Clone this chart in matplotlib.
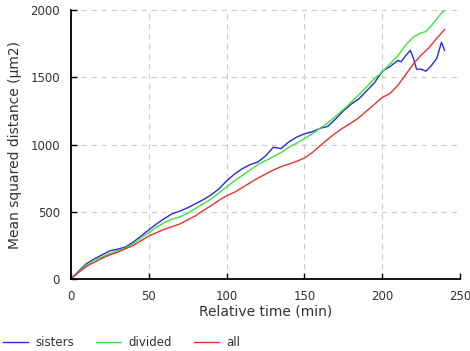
# Mean squared distance over time for sisters / divided / all cells
import matplotlib
matplotlib.use("Agg")
import matplotlib.pyplot as plt

# sisters
t_sis = [0, 5, 10, 15, 20, 25, 30, 35, 40, 45, 50, 55, 60, 65, 70, 75, 80, 85, 90, 95,
         100, 105, 110, 115, 120, 125, 130, 135, 140, 145, 150, 155, 160, 165, 170, 175,
         180, 185, 190, 195, 200, 205, 210, 212, 215, 218, 220, 222, 225, 228, 231, 235,
         238, 240]
msd_sis = [0, 60, 115, 150, 180, 210, 222, 238, 275, 320, 365, 410, 450, 485, 505, 530,
           560, 590, 625, 670, 730, 780, 820, 850, 870, 915, 980, 970, 1020, 1055, 1080,
           1095, 1120, 1135, 1190, 1250, 1300, 1340, 1400, 1460, 1545, 1580, 1625, 1615,
           1660, 1700, 1640, 1560, 1560, 1545, 1580, 1640, 1760, 1700]

# divided
t_div = [0, 5, 10, 15, 20, 25, 30, 35, 40, 45, 50, 55, 60, 65, 70, 75, 80, 85, 90, 95,
         100, 105, 110, 115, 120, 125, 130, 135, 140, 145, 150, 155, 160, 165, 170, 175,
         180, 185, 190, 195, 200, 205, 210, 215, 220, 225, 228, 232, 236, 240]
msd_div = [0, 55, 105, 140, 165, 190, 210, 230, 265, 305, 345, 385, 420, 445, 462, 490,
           525, 560, 595, 640, 685, 730, 770, 810, 850, 880, 910, 940, 980, 1010, 1045,
           1080, 1120, 1160, 1210, 1260, 1315, 1370, 1430, 1490, 1540, 1600, 1660, 1740,
           1800, 1830, 1840, 1890, 1950, 2000]

# all
t_all = [0, 5, 10, 15, 20, 25, 30, 35, 40, 45, 50, 55, 60, 65, 70, 75, 80, 85, 90, 95,
         100, 105, 110, 115, 120, 125, 130, 135, 140, 145, 150, 155, 160, 165, 170, 175,
         180, 185, 190, 195, 200, 205, 210, 215, 220, 225, 230, 235, 240]
msd_all = [0, 50, 95, 125, 155, 180, 200, 225, 250, 285, 320, 345, 370, 390, 410, 440,
           470, 510, 545, 585, 620, 645, 680, 715, 750, 780, 810, 835, 855, 875, 900,
           940, 990, 1040, 1085, 1125, 1160, 1200, 1250, 1300, 1350, 1380, 1440, 1520,
           1600, 1665, 1720, 1790, 1855]

fig = plt.figure(figsize=(4.7, 3.51), dpi=100)
ax = fig.add_axes([0.151, 0.205, 0.828, 0.7665])

ax.plot(t_sis, msd_sis, color="#2a2ad8", lw=1.0, label="sisters")
ax.plot(t_div, msd_div, color="#3ee03e", lw=1.0, label="divided")
ax.plot(t_all, msd_all, color="#e03535", lw=1.0, label="all")

ax.set_xlim(0, 250)
ax.set_ylim(0, 2000)
ax.set_xticks([0, 50, 100, 150, 200, 250])
ax.set_yticks([0, 500, 1000, 1500, 2000])
ax.grid(True, ls=(0, (5, 4)), color="#cccccc", lw=0.8)
for s in ["top", "right"]:
    ax.spines[s].set_visible(False)
for s in ["left", "bottom"]:
    ax.spines[s].set_linewidth(1.3)
ax.tick_params(direction="in", length=4, width=1, labelsize=8.5,
               labelcolor="#333333", pad=8)
ax.set_xlabel("Relative time (min)", fontsize=10, color="#333333", labelpad=1)
ax.set_ylabel("Mean squared distance (µm2)", fontsize=10, color="#333333", labelpad=6)

fig.legend(loc="center left", bbox_to_anchor=(-0.003, 0.024), ncol=3, frameon=False,
           fontsize=8.5, handlelength=2.1, handletextpad=0.6, columnspacing=1.9,
           borderaxespad=0, labelcolor="#333333")

fig.savefig("out.png", dpi=100)
